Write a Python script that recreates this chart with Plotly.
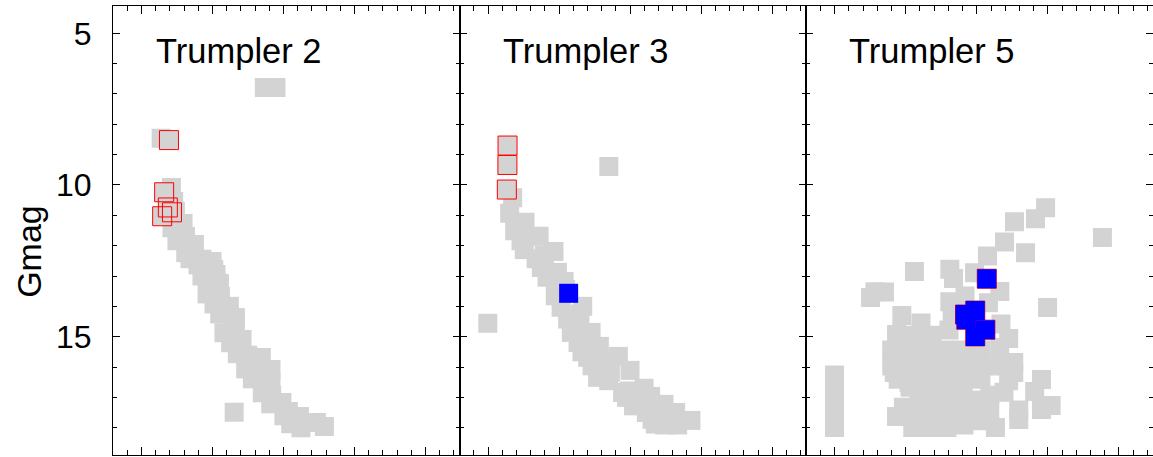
import plotly.graph_objects as go
from plotly.subplots import make_subplots

titles = ["Trumpler 2", "Trumpler 3", "Trumpler 5"]
y_ticks = [5, 10, 15]

# ---- Trumpler 2 ----
t2_gray_x = [0.865, 0.947, 0.139, 0.194, 0.160, 0.186, 0.215, 0.146,
             0.211, 0.227, 0.239, 0.293, 0.310, 0.373, 0.426, 0.497, 0.509, 0.525, 0.528, 0.549,
             0.556, 0.619, 0.661, 0.661, 0.708, 0.844, 0.912, 0.912, 0.989, 1.034, 1.112, 1.231, 1.288,
             0.187, 0.215, 0.250, 0.312, 0.342, 0.398, 0.426, 0.462, 0.511, 0.551, 0.581, 0.628,
             0.675, 0.734, 0.781, 0.851, 0.910, 1.003, 1.051, 1.123,
             0.748, 0.818, 0.917, 0.653]
t2_gray_y = [6.79, 6.79, 8.46, 8.52, 10.24, 10.74, 10.90, 11.03,
             10.08, 10.54, 10.87, 11.27, 11.70, 11.96, 12.45, 12.52, 12.78, 12.95, 13.21, 13.25,
             13.67, 14.00, 14.37, 14.49, 15.09, 15.69, 16.08, 16.50, 17.17, 17.47, 17.63, 17.83, 17.96,
             10.42, 11.41, 11.84, 12.23, 12.43, 12.63, 13.00, 13.59, 13.92, 14.25, 14.87, 15.20,
             15.56, 16.06, 16.39, 16.85, 17.21, 17.61, 17.87, 18.00,
             15.61, 16.17, 16.93, 17.49]
t2_red_x = [0.194, 0.160, 0.186, 0.215, 0.146]
t2_red_y = [8.52, 10.24, 10.74, 10.90, 11.03]
t2_blue_x = []
t2_blue_y = []

# ---- Trumpler 3 ----
t3_gray_x = [0.850, -0.002, 0.137, 0.136, 0.132,
             0.173, 0.260, 0.359, 0.464, 0.488, 0.535, 0.546, 0.666, 0.647, 0.725, 0.783, 0.917,
             0.999, 1.098, 1.144, 1.238, 1.320, 1.428,
             0.152, 0.187, 0.232, 0.255, 0.338, 0.375, 0.415, 0.473, 0.514, 0.560, 0.586, 0.633,
             0.661, 0.701, 0.732, 0.771, 0.849, 0.947, 0.975, 1.024, 1.114, 1.154, 1.177, 1.243, 1.334,
             0.713, 0.811, 0.861, 0.994, 1.065, 1.219, 0.642, 0.396]
t3_gray_y = [9.39, 14.56, 8.70, 9.34, 10.15,
             10.42, 11.23, 11.69, 12.19, 12.88, 13.18, 13.44, 14.00, 14.25, 14.86, 15.32, 15.65,
             16.11, 16.70, 16.97, 17.23, 17.50, 17.76,
             10.93, 11.51, 11.84, 12.13, 12.43, 12.72, 13.04, 13.65, 14.03, 14.42, 14.86, 15.19,
             15.50, 15.68, 15.96, 16.34, 16.45, 16.84, 17.00, 17.28, 17.50, 17.72, 17.88, 17.91, 17.91,
             15.44, 15.77, 16.17, 16.79, 17.16, 17.62, 14.62, 12.31]
t3_red_x = [0.137, 0.136, 0.132]
t3_red_y = [8.70, 9.34, 10.15]
t3_blue_x = [0.567]
t3_blue_y = [13.57]

# ---- Trumpler 5 ----
t5_gray_x = [-0.002, -0.002, -0.002, -0.002, 0.252, 0.283, 0.350, 0.561,
             0.810, 0.836, 0.984, 1.075, 1.195, 1.265, 1.413, 1.484, 1.343, 1.884,
             1.162, 1.082, 0.810, 0.827, 0.917, 1.498, 1.224, 1.170,
             0.472, 0.607,
             0.435, 0.558, 0.685, 0.804,
             0.401, 0.523, 0.649, 0.776, 0.903, 1.029, 1.161,
             0.401, 0.523, 0.649, 0.776, 0.903, 1.029, 1.156, 1.260, 1.260,
             0.419, 0.523, 0.649, 0.776, 0.903, 1.029, 1.224,
             0.447, 0.530, 0.483, 0.593, 0.720, 0.846, 0.973, 1.091, 1.191,
             0.435, 0.558, 0.685, 0.811, 0.938, 1.065, 1.091,
             0.549, 0.663, 0.790, 0.910, 1.001, 1.131,
             1.455, 1.407, 1.523, 1.455, 1.295, 1.295]
t5_gray_y = [16.26, 16.83, 17.42, 17.99, 13.71, 13.52, 13.53, 12.85,
             12.78, 13.08, 12.89, 12.34, 11.88, 11.21, 11.11, 10.75, 12.23, 11.73,
             13.51, 13.88, 13.85, 14.20, 13.66, 14.04, 15.06, 14.58,
             14.30, 14.55,
             14.93, 14.95, 14.95, 14.78,
             15.44, 15.44, 15.44, 15.44, 15.44, 15.44, 15.36,
             15.97, 15.97, 15.97, 15.97, 15.97, 15.97, 15.97, 15.85, 16.18,
             16.18, 16.50, 16.50, 16.50, 16.50, 16.40, 16.45,
             16.40, 16.67, 17.33, 17.09, 17.09, 17.09, 17.09, 16.93, 16.83,
             17.63, 17.68, 17.68, 17.68, 17.68, 17.63, 17.40,
             17.99, 17.99, 17.99, 17.91, 17.77, 17.99,
             16.41, 16.81, 17.27, 17.40, 17.42, 17.73]
t5_red_x = [1.070, 0.917, 0.989, 0.989, 1.060, 0.926]
t5_red_y = [13.09, 14.27, 14.14, 14.99, 14.77, 14.44]
t5_blue_x = [1.070, 0.917, 0.989, 0.989, 1.060, 0.926]
t5_blue_y = [13.09, 14.27, 14.14, 14.99, 14.77, 14.44]

panels = [
    (t2_gray_x, t2_gray_y, t2_red_x, t2_red_y, t2_blue_x, t2_blue_y),
    (t3_gray_x, t3_gray_y, t3_red_x, t3_red_y, t3_blue_x, t3_blue_y),
    (t5_gray_x, t5_gray_y, t5_red_x, t5_red_y, t5_blue_x, t5_blue_y),
]

FONT = "Liberation Sans, Arial, Helvetica, sans-serif"
MS = 19

fig = make_subplots(rows=1, cols=3, shared_yaxes=True, horizontal_spacing=0)

for i, (gx, gy, rx, ry, bx, by) in enumerate(panels):
    c = i + 1
    fig.add_trace(go.Scatter(x=gx, y=gy, mode="markers",
                             marker=dict(symbol="square", size=MS, color="#d3d3d3",
                                         line=dict(width=0)),
                             showlegend=False, hoverinfo="skip"), row=1, col=c)
    if rx:
        fig.add_trace(go.Scatter(x=rx, y=ry, mode="markers",
                                 marker=dict(symbol="square-open", size=MS, color="red",
                                             line=dict(width=1, color="red")),
                                 showlegend=False, hoverinfo="skip"), row=1, col=c)
    if bx:
        fig.add_trace(go.Scatter(x=bx, y=by, mode="markers",
                                 marker=dict(symbol="square", size=MS, color="blue",
                                             line=dict(width=0)),
                                 showlegend=False, hoverinfo="skip"), row=1, col=c)
    fig.update_xaxes(range=[-0.2, 2.24], tick0=0, dtick=0.5, showticklabels=False,
                     ticks="inside", ticklen=8, tickwidth=1, tickcolor="black",
                     minor=dict(ticks="inside", ticklen=5, dtick=0.1, tick0=0,
                                tickcolor="black", tickwidth=1),
                     showline=True, linecolor="black", linewidth=1, mirror="allticks",
                     showgrid=False, zeroline=False, row=1, col=c)
    fig.update_yaxes(range=[18.9, 4.1], tickvals=y_ticks,
                     ticks="inside", ticklen=7, tickwidth=1, tickcolor="black",
                     minor=dict(ticks="inside", ticklen=4, dtick=1, tick0=0,
                                tickcolor="black", tickwidth=1),
                     showline=True, linecolor="black", linewidth=1, mirror="allticks",
                     showgrid=False, zeroline=False, row=1, col=c)
    fig.add_annotation(text=titles[i], xref=f"x{'' if c == 1 else c} domain",
                       yref=f"y{'' if c == 1 else c} domain",
                       x=0.118, y=0.900, xanchor="left", yanchor="middle",
                       showarrow=False, font=dict(family=FONT, size=34.5, color="black"))

fig.update_yaxes(tickfont=dict(family=FONT, size=32, color="black"),
                 ticklabelstandoff=14, row=1, col=1)

fig.add_annotation(text="Gmag", xref="paper", yref="paper", x=-0.0815, y=0.453,
                   textangle=-90, showarrow=False, xanchor="center", yanchor="middle",
                   font=dict(family=FONT, size=34, color="black"))

fig.update_layout(width=1153, height=457, margin=dict(l=113, r=0, t=6, b=2),
                  paper_bgcolor="white", plot_bgcolor="white",
                  font=dict(family=FONT, color="black"))

fig.write_html("out.html")
